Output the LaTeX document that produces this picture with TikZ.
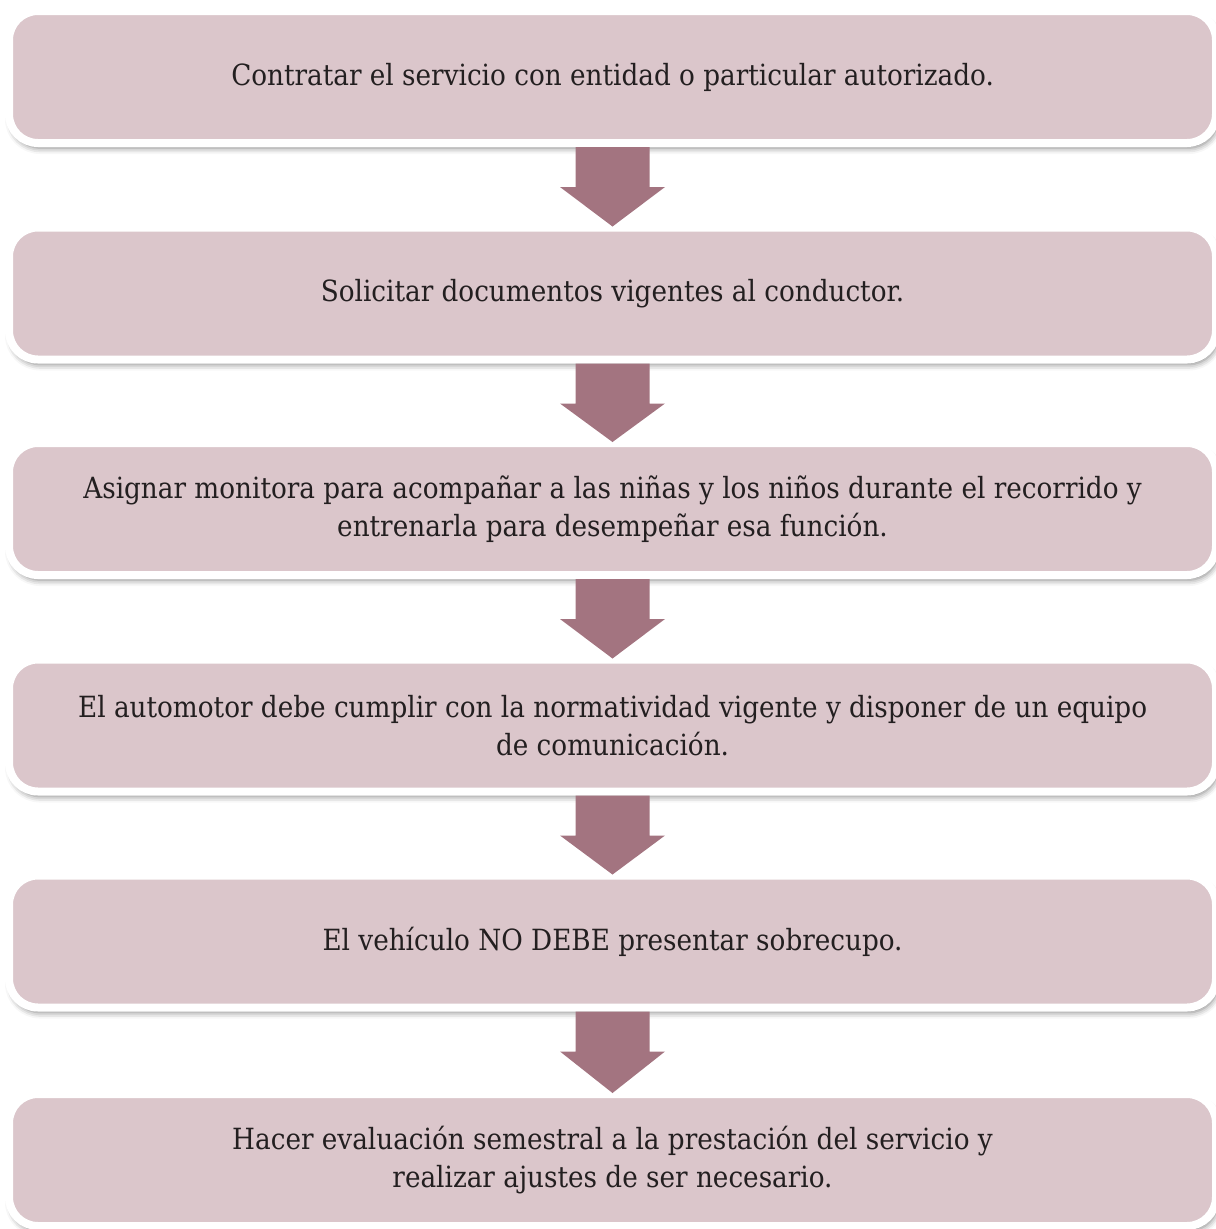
\documentclass[tikz,border=0pt]{standalone}
\usepackage{fontspec}
\setmainfont{DejaVu Serif Condensed}
\usetikzlibrary{calc,shadows.blur}
\definecolor{boxfill}{HTML}{DBC6CB}
\definecolor{arrowfill}{HTML}{A37480}
\definecolor{txt}{HTML}{231F20}
\def\u{0.75pt}
\tikzset{
  stepbox/.style={rectangle, rounded corners=29*\u, fill=boxfill, draw=white,
    line width=8*\u, minimum width=1207*\u, minimum height=132*\u,
    align=center, text=txt, font=\fontsize{21.9}{28.5}\selectfont,
    blur shadow={shadow xshift=2*\u, shadow yshift=-5*\u, shadow blur radius=6*\u, shadow opacity=50}},
  downarrow/.style={fill=arrowfill}
}
\newcommand\flowarrow[2]{%
  \fill[downarrow] ($(#1.south)+(-37,0)$) -- ($(#1.south)+(37,0)$) -- ($(#1.south)+(37,40)$)
    -- ($(#1.south)+(52.5,40)$) -- ($(#2.north)+(0,3)$) -- ($(#1.south)+(-52.5,40)$)
    -- ($(#1.south)+(-37,40)$) -- cycle;}
\begin{document}
\begin{tikzpicture}[x=0.75pt,y=-0.75pt]
\useasboundingbox (0,0) rectangle (1215,1229);
\node[stepbox] (b1) at (612.5,77) {Contratar el servicio con entidad o particular autorizado.};
\node[stepbox] (b2) at (612.5,293.5) {Solicitar documentos vigentes al conductor.};
\node[stepbox] (b3) at (612.5,509) {Asignar monitora para acompañar a las niñas y los niños durante el recorrido y\\ entrenarla para desempeñar esa función.};
\node[stepbox] (b4) at (612.5,725.5) {El automotor debe cumplir con la normatividad vigente y disponer de un equipo\\ de comunicación.};
\node[stepbox] (b5) at (612.5,941.5) {El vehículo NO DEBE presentar sobrecupo.};
\node[stepbox] (b6) at (612.5,1160) {Hacer evaluación semestral a la prestación del servicio y\\ realizar ajustes de ser necesario.};
\flowarrow{b1}{b2}
\flowarrow{b2}{b3}
\flowarrow{b3}{b4}
\flowarrow{b4}{b5}
\flowarrow{b5}{b6}
\end{tikzpicture}
\end{document}
